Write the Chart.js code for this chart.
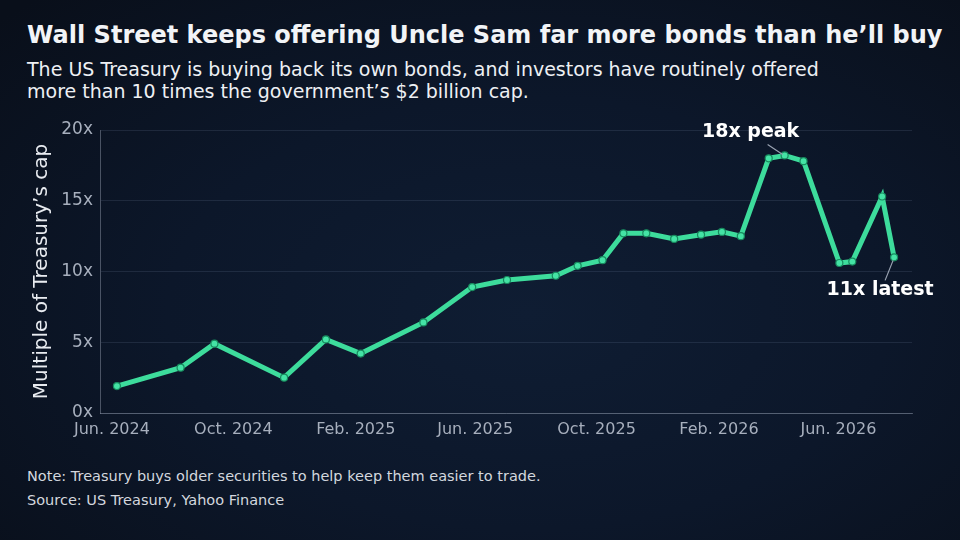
<!DOCTYPE html>
<html lang="en">
<head>
    <meta charset="UTF-8">
    <title>Treasury buybacks</title>
    <script src="https://cdn.jsdelivr.net/npm/chart.js"></script>
    <style>
        html, body { margin: 0; padding: 0; }
        body {
            width: 960px;
            height: 540px;
            overflow: hidden;
            position: relative;
            font-family: "DejaVu Sans", sans-serif;
            background: radial-gradient(ellipse 75% 80% at 55% 58%, #0f1d33 0%, #0c172a 50%, #090f1a 100%);
            color: #f2f4f7;
        }
        h1 {
            position: absolute;
            left: 27px;
            top: 21px;
            margin: 0;
            font-size: 24px;
            font-weight: bold;
            white-space: nowrap;
        }
        .subtitulo {
            position: absolute;
            left: 27px;
            top: 58px;
            margin: 0;
            font-size: 19px;
            line-height: 22px;
            color: #eef0f4;
        }
        canvas { position: absolute; left: 0; top: 110px; }
        .notas {
            position: absolute;
            left: 27px;
            top: 464px;
            margin: 0;
            font-size: 14.5px;
            line-height: 24px;
            color: #d3d7de;
        }
    </style>
</head>
<body>
    <h1>Wall Street keeps offering Uncle Sam far more bonds than he’ll buy</h1>
    <p class="subtitulo">The US Treasury is buying back its own bonds, and investors have routinely offered<br>more than 10 times the government’s $2 billion cap.</p>

    <canvas id="grafico" width="960" height="340"></canvas>

    <p class="notas">Note: Treasury buys older securities to help keep them easier to trade.<br>Source: US Treasury, Yahoo Finance</p>

    <script>
        // fechas de cada operación y múltiplo ofrecido sobre el tope
        const fechas = [
            '2024-06-06', '2024-08-09', '2024-09-12', '2024-11-21', '2025-01-02',
            '2025-02-06', '2025-04-10', '2025-05-29', '2025-07-03', '2025-08-21',
            '2025-09-12', '2025-10-07', '2025-10-28', '2025-11-20', '2025-12-18',
            '2026-01-14', '2026-02-04', '2026-02-23', '2026-03-23', '2026-04-08',
            '2026-04-27', '2026-06-02', '2026-06-15', '2026-07-15', '2026-07-27'
        ];
        const multiplos = [
            1.9, 3.2, 4.9, 2.5, 5.2,
            4.2, 6.4, 8.9, 9.4, 9.7,
            10.4, 10.8, 12.7, 12.7, 12.3,
            12.6, 12.8, 12.5, 18.0, 18.2,
            17.8, 10.6, 10.7, 15.3, 11.0
        ];
        const fechasTicks = ['2024-06-01', '2024-10-01', '2025-02-01', '2025-06-01', '2025-10-01', '2026-02-01', '2026-06-01'];
        const etiquetasTicks = ['Jun. 2024', 'Oct. 2024', 'Feb. 2025', 'Jun. 2025', 'Oct. 2025', 'Feb. 2026', 'Jun. 2026'];
        const valoresY = [0, 5, 10, 15, 20];
        const etiquetaPico = '18x peak';
        const etiquetaUltimo = '11x latest';

        // días desde el 1 de junio de 2024
        const origen = Date.UTC(2024, 5, 1);
        function aDia(f) {
            const [a, m, d] = f.split('-').map(Number);
            return (Date.UTC(a, m - 1, d) - origen) / 86400000;
        }

        const puntos = fechas.map((f, i) => ({ x: aDia(f), y: multiplos[i] }));
        const diasTicks = fechasTicks.map(aDia);
        const iPico = multiplos.indexOf(Math.max(...multiplos));
        const iUltimo = multiplos.length - 1;

        // Etiquetas con línea guía
        const anotaciones = {
            id: 'anotaciones',
            afterDatasetsDraw(chart) {
                const ctx = chart.ctx;
                const meta = chart.getDatasetMeta(0);
                const pico = meta.data[iPico];
                const ultimo = meta.data[iUltimo];
                ctx.save();
                ctx.strokeStyle = '#9aa3b2';
                ctx.lineWidth = 1.2;
                ctx.beginPath();
                ctx.moveTo(pico.x - 17, pico.y - 11);
                ctx.lineTo(pico.x - 2, pico.y - 1);
                ctx.moveTo(ultimo.x - 9, ultimo.y + 23);
                ctx.lineTo(ultimo.x - 1, ultimo.y + 3);
                ctx.stroke();
                ctx.fillStyle = '#ffffff';
                ctx.font = 'bold 19px "DejaVu Sans"';
                ctx.textAlign = 'center';
                ctx.textBaseline = 'middle';
                ctx.fillText(etiquetaPico, pico.x - 34, pico.y - 23);
                ctx.fillText(etiquetaUltimo, ultimo.x - 14, ultimo.y + 33);
                ctx.restore();
            }
        };

        const ctx = document.getElementById('grafico').getContext('2d');
        new Chart(ctx, {
            type: 'line',
            data: {
                datasets: [{
                    data: puntos,
                    borderColor: '#3ddc9c',
                    borderWidth: 5,
                    tension: 0,
                    pointRadius: 3.5,
                    pointBackgroundColor: '#44e3a5',
                    pointBorderColor: '#188a5e',
                    pointBorderWidth: 1.2
                }]
            },
            options: {
                responsive: false,
                animation: false,
                layout: { padding: { top: 20, right: 48, bottom: 0, left: 0 } },
                plugins: {
                    legend: { display: false },
                    tooltip: { enabled: false }
                },
                scales: {
                    x: {
                        type: 'linear',
                        min: -12,
                        max: 804,
                        grid: { display: false, drawTicks: false },
                        border: { display: true, color: 'rgba(150,160,178,0.45)', width: 1 },
                        afterBuildTicks: (scale) => { scale.ticks = diasTicks.map(v => ({ value: v })); },
                        afterFit: (scale) => { scale.height = 37; },
                        ticks: {
                            autoSkip: false,
                            maxRotation: 0,
                            padding: 7,
                            color: '#a7afbd',
                            font: { family: 'DejaVu Sans', size: 16 },
                            callback: (v) => etiquetasTicks[diasTicks.indexOf(v)]
                        }
                    },
                    y: {
                        min: 0,
                        max: 20,
                        grid: { color: 'rgba(130,150,180,0.16)', lineWidth: 1, drawTicks: false },
                        border: { display: true, color: 'rgba(150,160,178,0.45)', width: 1 },
                        afterBuildTicks: (scale) => { scale.ticks = valoresY.map(v => ({ value: v })); },
                        afterFit: (scale) => { scale.width = 100; },
                        ticks: {
                            padding: 7,
                            color: '#a7afbd',
                            font: { family: 'DejaVu Sans', size: 17 },
                            callback: (v) => v + 'x'
                        },
                        title: {
                            display: true,
                            text: 'Multiple of Treasury’s cap',
                            color: '#e8ebf0',
                            font: { family: 'DejaVu Sans', size: 20 },
                            padding: { top: 30, bottom: 0 }
                        }
                    }
                }
            },
            plugins: [anotaciones]
        });
    </script>
</body>
</html>
